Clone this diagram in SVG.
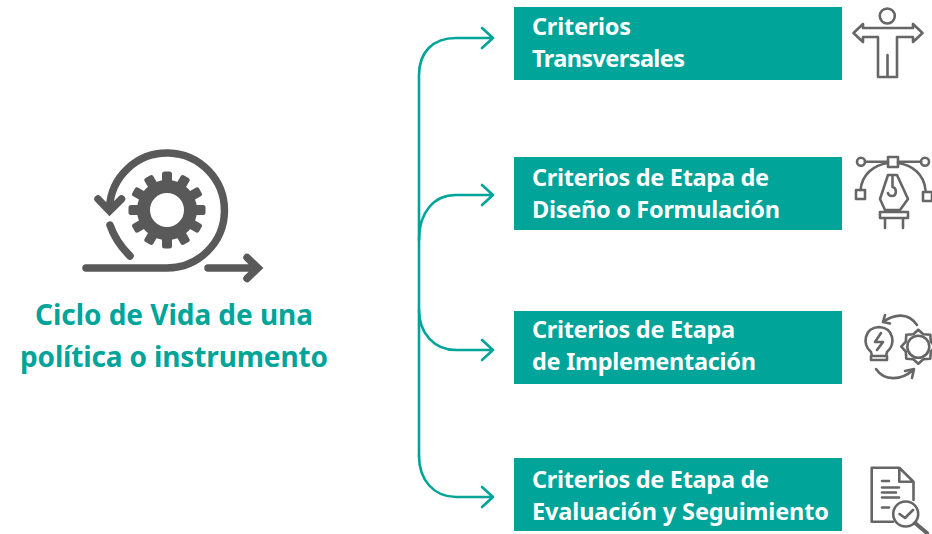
<svg xmlns="http://www.w3.org/2000/svg" xmlns:xlink="http://www.w3.org/1999/xlink" width="932" height="534" viewBox="0 0 932 534">
<style>
text{font-family:"Noto Sans","Liberation Sans",sans-serif;font-weight:700}
.box{fill:#00a499}
.lbl{fill:#fff;font-size:23.5px}
.title{fill:#00a499;font-size:28px}
.con{fill:none;stroke:#00a499;stroke-width:2.6;stroke-linecap:round;stroke-linejoin:round}
.big{fill:none;stroke:#595959;stroke-width:7.500;stroke-linecap:round;stroke-linejoin:miter}
.ic{fill:none;stroke:#666;stroke-width:2.600;stroke-linecap:round;stroke-linejoin:round}
</style>
<defs><rect id="t" x="-5" y="-38.500" width="10" height="14" rx="2.500" fill="#595959"/></defs>
<rect width="932" height="534" fill="#fff"/>
<g id="connectors" class="con">
<path d="M419 456V75C419 53 432 38 456 38H493M482 28L493 38L482 48"/>
<path d="M419 240C419 212 434 195 456 195H493M482 185L493 195L482 205"/>
<path d="M419 310C419 333 434 350 456 350H493M482 340L493 350L482 360"/>
<path d="M419 456C419 480 434 497 456 497H493M482 487L493 497L482 507"/>
</g>
<g id="cycle">
<path class="big" d="M86 268H167A57.500 57.500 0 1 0 109.500 208M98 199L109.500 211L121.500 199M110 225C114 237 121 247 130 256M208 268H256M247 257.500L258 268L247 278.500"/>
<circle cx="167" cy="210" r="23.500" fill="none" stroke="#595959" stroke-width="13"/>
<g transform="translate(167 210)"><use xlink:href="#t"/><use xlink:href="#t" transform="rotate(30)"/><use xlink:href="#t" transform="rotate(60)"/><use xlink:href="#t" transform="rotate(90)"/><use xlink:href="#t" transform="rotate(120)"/><use xlink:href="#t" transform="rotate(150)"/><use xlink:href="#t" transform="rotate(180)"/><use xlink:href="#t" transform="rotate(210)"/><use xlink:href="#t" transform="rotate(240)"/><use xlink:href="#t" transform="rotate(270)"/><use xlink:href="#t" transform="rotate(300)"/><use xlink:href="#t" transform="rotate(330)"/></g>
<text class="title" x="35" y="325" textLength="278">Ciclo de Vida de una</text>
<text class="title" x="20" y="367" textLength="308">política o instrumento</text>
</g>
<g id="n1"><rect class="box" x="514" y="7" width="328" height="73"/><text class="lbl" x="532" y="35" textLength="99">Criterios</text><text class="lbl" x="532" y="67" textLength="153">Transversales</text>
<circle class="ic" cx="887.300" cy="16" r="7.500"/><path class="ic" d="M863 24L853.500 33L863 42V37H878V77H897V37H913V42L922.500 33L913 24V28H863ZM887.500 55V77"/></g>
<g id="n2"><rect class="box" x="514" y="157" width="328" height="73"/><text class="lbl" x="532" y="186" textLength="237">Criterios de Etapa de</text><text class="lbl" x="532" y="218" textLength="248">Diseño o Formulación</text>
<path class="ic" d="M865 161.700H888M898 161.700H921M860.500 190C862 174 874 165 888 163M925.500 190C924 174 912 165 898 163M888 175H897L908 199L900 210H885L880 199ZM892.500 175V187M892.500 187C897 188 897 196 892 196C889 196 888 194 888 193M880 212H908V218H880ZM885 218V228M903 218V228"/>
<circle class="ic" cx="861" cy="161.700" r="4"/><circle class="ic" cx="925" cy="161.700" r="4"/><rect class="ic" x="888" y="157" width="10" height="10"/><rect class="ic" x="856" y="190" width="9" height="9"/><rect class="ic" x="923" y="192" width="9" height="9"/></g>
<g id="n3"><rect class="box" x="514" y="311" width="328" height="73"/><text class="lbl" x="532" y="338" textLength="203">Criterios de Etapa</text><text class="lbl" x="532" y="370" textLength="224">de Implementación</text>
<path class="ic" d="M871 352C862 344 864 328 879 327C894 328 896 344 887 352L886 356H872ZM871 356H887V360H871ZM881 333L875 342H883L877 350M917 325C908 312 894 314 883 322M890 323.500L883 322L885 315M876 369C884 381 901 381 913 370M905 371L914 369L912 378"/>
<circle class="ic" cx="918.300" cy="346.700" r="11"/>
<path class="ic" d="M918.300 329.700L923.300 334.200L930.300 334.700L930.800 341.700L935.300 346.700L930.800 351.700L930.300 358.700L923.300 359.200L918.300 363.700L913.300 359.200L906.300 358.700L905.800 351.700L901.300 346.700L905.800 341.700L906.300 334.700L913.300 334.200Z"/></g>
<g id="n4"><rect class="box" x="514" y="458" width="328" height="73"/><text class="lbl" x="532" y="488" textLength="237">Criterios de Etapa de</text><text class="lbl" x="532" y="520" textLength="297">Evaluación y Seguimiento</text>
<path class="ic" d="M893 521.700H871.700V467.700H899.300L913.500 481.700V500M899.300 467.700V481.700H913.500M882 481H889M882 487.500H899M882 492.500H896M882 497.500H899M882 507.500H889M899.500 514L905 518L913 510"/>
<circle class="ic" cx="905.700" cy="514" r="12.500"/><path d="M915 523L927 533" fill="none" stroke="#666" stroke-width="4" stroke-linecap="round"/></g>
</svg>
